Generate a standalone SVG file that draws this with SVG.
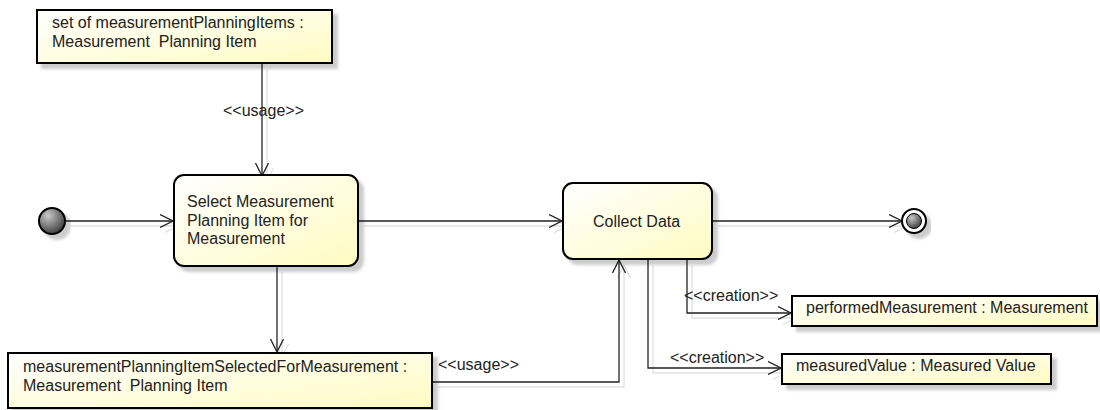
<svg xmlns="http://www.w3.org/2000/svg" width="1100" height="410" viewBox="0 0 1100 410">
<defs>
<linearGradient id="fillG" x1="0" y1="0" x2="1" y2="1">
<stop offset="0" stop-color="#ffffff"/>
<stop offset="1" stop-color="#fffbc2"/>
</linearGradient>
<radialGradient id="ballG" cx="0.35" cy="0.3" r="0.75">
<stop offset="0" stop-color="#c8c8c8"/>
<stop offset="1" stop-color="#3a3a3a"/>
</radialGradient>
<filter id="sh" x="-10%" y="-10%" width="130%" height="140%">
<feDropShadow dx="5" dy="5" stdDeviation="1.5" flood-color="#000" flood-opacity="0.2"/>
</filter>
<filter id="lsh" x="-10%" y="-10%" width="130%" height="130%">
<feDropShadow dx="5" dy="5" stdDeviation="0.6" flood-color="#000" flood-opacity="0.12"/>
</filter>
<marker id="open" viewBox="0 0 14 14" refX="13" refY="7" markerWidth="14" markerHeight="14" markerUnits="userSpaceOnUse" orient="auto">
<path d="M0,0.5 L13,7 L0,13.5" fill="none" stroke="#222" stroke-width="1.3"/>
</marker>
<style>
.obj{fill:url(#fillG);stroke:#000;stroke-width:2;filter:url(#sh)}
.act{fill:url(#fillG);stroke:#000;stroke-width:2;filter:url(#sh)}
.t{font-family:"Liberation Sans",Arial,sans-serif;font-size:16px;fill:#222;white-space:pre}
.lbl{font-family:"Liberation Sans",Arial,sans-serif;font-size:16px;fill:#222}
.c{fill:none;stroke:#222;stroke-width:1.3;marker-end:url(#open)}
</style>
</defs>
<rect width="1100" height="410" fill="#fff"/>

<g id="connectors" filter="url(#lsh)">
<path class="c" d="M262,64 L262,176"/>
<path class="c" d="M66,221 L173,221"/>
<path class="c" d="M359,221 L562,221"/>
<path class="c" d="M713,221 L902,221"/>
<path class="c" d="M277,267 L277,352"/>
<path class="c" d="M433,382 L619,382 L619,260"/>
<path class="c" d="M687,260 L687,313 L791,313"/>
<path class="c" d="M648,260 L648,368 L781,368"/>
</g>
<g id="labels">
<text class="lbl" x="223" y="116">&lt;&lt;usage&gt;&gt;</text>
<text class="lbl" x="438" y="370">&lt;&lt;usage&gt;&gt;</text>
<text class="lbl" x="684" y="301">&lt;&lt;creation&gt;&gt;</text>
<text class="lbl" x="670" y="363">&lt;&lt;creation&gt;&gt;</text>
</g>

<g id="set-of-items">
<rect class="obj" x="37" y="10" width="295" height="53"/>
<text class="t" x="52" y="28">set of measurementPlanningItems :</text>
<text class="t" x="52" y="47" xml:space="preserve">Measurement  Planning Item</text>
</g>

<g id="initial">
<circle cx="52" cy="221" r="13" fill="url(#ballG)" stroke="#000" stroke-width="2" filter="url(#sh)"/>
</g>

<g id="select-item">
<rect class="act" x="174" y="175" width="184" height="91" rx="10" ry="10"/>
<text class="t" x="187" y="207">Select Measurement</text>
<text class="t" x="187" y="226">Planning Item for</text>
<text class="t" x="187" y="244">Measurement</text>
</g>

<g id="collect-data">
<rect class="act" x="563" y="183" width="149" height="76" rx="10" ry="10"/>
<text class="t" x="593" y="227">Collect Data</text>
</g>

<g id="final">
<circle cx="914" cy="221" r="12" fill="#fff" stroke="#000" stroke-width="2" filter="url(#sh)"/>
<circle cx="914" cy="221" r="7.5" fill="url(#ballG)" stroke="#000" stroke-width="1"/>
</g>

<g id="selected-item">
<rect class="obj" x="8" y="353" width="424" height="55"/>
<text class="t" x="23" y="372">measurementPlanningItemSelectedForMeasurement :</text>
<text class="t" x="23" y="391" xml:space="preserve">Measurement  Planning Item</text>
</g>

<g id="performed-measurement">
<rect class="obj" x="792" y="296" width="305" height="30"/>
<text class="t" x="806" y="313">performedMeasurement : Measurement</text>
</g>

<g id="measured-value">
<rect class="obj" x="782" y="354" width="269" height="30"/>
<text class="t" x="796" y="371">measuredValue : Measured Value</text>
</g>
</svg>
